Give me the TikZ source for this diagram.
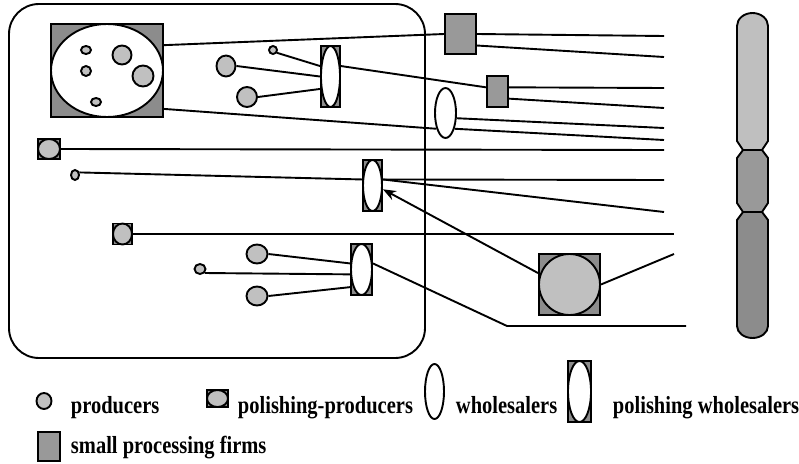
\documentclass[tikz,border=0pt]{standalone}
\usepackage{fontspec}
\setmainfont{Liberation Serif}
\usetikzlibrary{shapes.geometric, arrows.meta}
\definecolor{prodgray}{RGB}{192,192,192}
\definecolor{framegray}{RGB}{140,140,140}
\definecolor{firmgray}{RGB}{153,153,153}
\definecolor{pilllight}{RGB}{191,191,191}
\definecolor{pillmid}{RGB}{153,153,153}
\definecolor{pilldark}{RGB}{140,140,140}
\newcommand{\tall}[1]{\scalebox{1}[1.2]{#1}}

\begin{document}
\begin{tikzpicture}[x=1pt, y=-1pt, line width=1.9pt,
    sz/.style 2 args={minimum width=#1pt, minimum height=#2pt},
    prod/.style={ellipse, draw, fill=prodgray, inner sep=0pt},
    whole/.style={ellipse, draw, fill=white, inner sep=0pt},
    polframe/.style={rectangle, draw, fill=framegray, inner sep=0pt},
    firm/.style={rectangle, draw, fill=firmgray, inner sep=0pt},
    arr/.style={-{Stealth[length=13pt, width=10pt]}},
    lbl/.style={anchor=base west, inner sep=0pt, font=\bfseries\fontsize{20.5}{24}\selectfont}]
  \fill[white] (0,0) rectangle (799,463);
  \useasboundingbox (0,0) rectangle (799,463);

  % region boundary
  \draw[rounded corners=30pt] (9,4) rectangle (425,358);

  % cluster of producers
  \node[polframe, sz={112}{93}] (cluster) at (107,70.5) {};
  \node[whole, sz={112}{93}] (clusterin) at (cluster) {};
  \node[prod, sz={10}{8}] (c1) at (86,50) {};
  \node[prod, sz={10}{10}] (c2) at (86,71) {};
  \node[prod, sz={19}{19}] (c3) at (122,55) {};
  \node[prod, sz={21}{21}] (c4) at (143,76) {};
  \node[prod, sz={10}{8}] (c5) at (96,102) {};

  % producers
  \node[prod, sz={19}{21}] (pr1) at (226,66) {};
  \node[prod, sz={20}{20}] (pr2) at (247,97) {};
  \node[prod, sz={21}{19}] (pr3) at (257,254) {};
  \node[prod, sz={21}{19}] (pr4) at (257,296) {};
  \node[prod, sz={8}{8}] (t1) at (273,50) {};
  \node[prod, sz={8}{10}] (t2) at (75,175) {};
  \node[prod, sz={11}{10}] (t3) at (200,269) {};

  % polishing-producers
  \node[polframe, sz={22}{20}] (pp1) at (49,149) {};
  \node[prod, sz={22}{20}] (pp1in) at (pp1) {};
  \node[polframe, sz={19}{21}] (pp2) at (122.5,234) {};
  \node[prod, sz={19}{21}] (pp2in) at (pp2) {};
  \node[polframe, sz={61}{61}] (pp3) at (569.5,284.5) {};
  \node[prod, sz={61}{61}] (pp3in) at (pp3) {};

  % wholesalers
  \node[whole, sz={21}{50}] (w1) at (445.5,113) {};
  \node[polframe, sz={19}{61}] (pw1) at (330.5,76.5) {};
  \node[whole, sz={19}{61}] (pw1in) at (pw1) {};
  \node[polframe, sz={19}{51}] (pw2) at (372.5,185.5) {};
  \node[whole, sz={19}{51}] (pw2in) at (pw2) {};
  \node[polframe, sz={21}{51}] (pw3) at (361.5,269.5) {};
  \node[whole, sz={21}{51}] (pw3in) at (pw3) {};

  % small processing firms
  \node[firm, sz={31}{40}] (f1) at (460.5,34) {};
  \node[firm, sz={21}{31}] (f2) at (497.5,91.5) {};

  % free ends
  \coordinate (e1) at (664,36);
  \coordinate (e2) at (664,57);
  \coordinate (e3) at (664,88);
  \coordinate (e4) at (664,108);
  \coordinate (e5) at (664,128);
  \coordinate (e6) at (664,140);
  \coordinate (e7) at (664,150);
  \coordinate (e8) at (664,180);
  \coordinate (e9) at (664,212);
  \coordinate (e10) at (674,234);
  \coordinate (e11) at (674,254);
  \coordinate (bend) at (507,326);
  \coordinate (e12) at (686,326);

  % flows
  \draw (cluster.24) -- (f1.west);
  \draw (f1.east) -- (e1);
  \draw (f1.-35) -- (e2);
  \draw (t1.-35) -- (pw1.135);
  \draw (pr1.east) -- (pw1.west);
  \draw (pr2.east) -- (pw1.230);
  \draw (pw1.45) -- (f2.160);
  \draw (f2.20) -- (e3);
  \draw (f2.-32) -- (e4);
  \draw (cluster.-34) -- (w1.240);
  \draw (w1.-25) -- (e5);
  \draw (w1.-60) -- (e6);
  \draw (pp1.east) -- (e7);
  \draw (t2.30) -- (pw2.150);
  \draw (pw2.30) -- (e8);
  \draw (pw2.30) -- (e9);
  \draw (pp2.east) -- (e10);
  \draw (pp3.east) -- (e11);
  \draw[arr] (pp3.160) -- (pw2.-20);
  \draw (pr3.east) -- (pw3.152);
  \draw (t3.-40) -- (pw3.203);
  \draw (pr4.east) -- (pw3.237);
  \draw (pw3.28) -- (bend) -- (e12);

  % market column
  \draw[fill=pilllight] (743,150) -- (737,141) -- (737,26)
    arc[start angle=180, end angle=0, x radius=15.5pt, y radius=13pt]
    -- (768,141) -- (762,150) -- cycle;
  \draw[fill=pillmid] (743,150) -- (737,158) -- (737,203) -- (743,212)
    -- (762,212) -- (768,203) -- (768,158) -- (762,150) -- cycle;
  \draw[fill=pilldark] (743,212) -- (737,220) -- (737,326)
    arc[start angle=180, end angle=360, x radius=15.5pt, y radius=12pt]
    -- (768,220) -- (762,212) -- cycle;

  % legend
  \node[prod, sz={15}{16}] (lprod) at (44,401) {};
  \node[lbl] (tprod) at (70,413) {\tall{producers}};
  \node[polframe, sz={21}{17}] (lpp) at (217.5,398.5) {};
  \node[prod, sz={21}{17}] (lppin) at (lpp) {};
  \node[lbl] (tpp) at (237,413) {\tall{polishing-producers}};
  \node[whole, sz={19}{55}] (lwh) at (434.5,391.5) {};
  \node[lbl] (twh) at (455,413) {\tall{wholesalers}};
  \node[polframe, sz={23}{61}] (lpw) at (579.5,391.5) {};
  \node[whole, sz={23}{61}] (lpwin) at (lpw) {};
  \node[lbl] (tpw) at (612,413) {\tall{polishing wholesalers}};
  \node[firm, sz={22}{29}] (lfirm) at (49,446.5) {};
  \node[lbl] (tfirm) at (70,453) {\tall{small processing firms}};
\end{tikzpicture}
\end{document}
